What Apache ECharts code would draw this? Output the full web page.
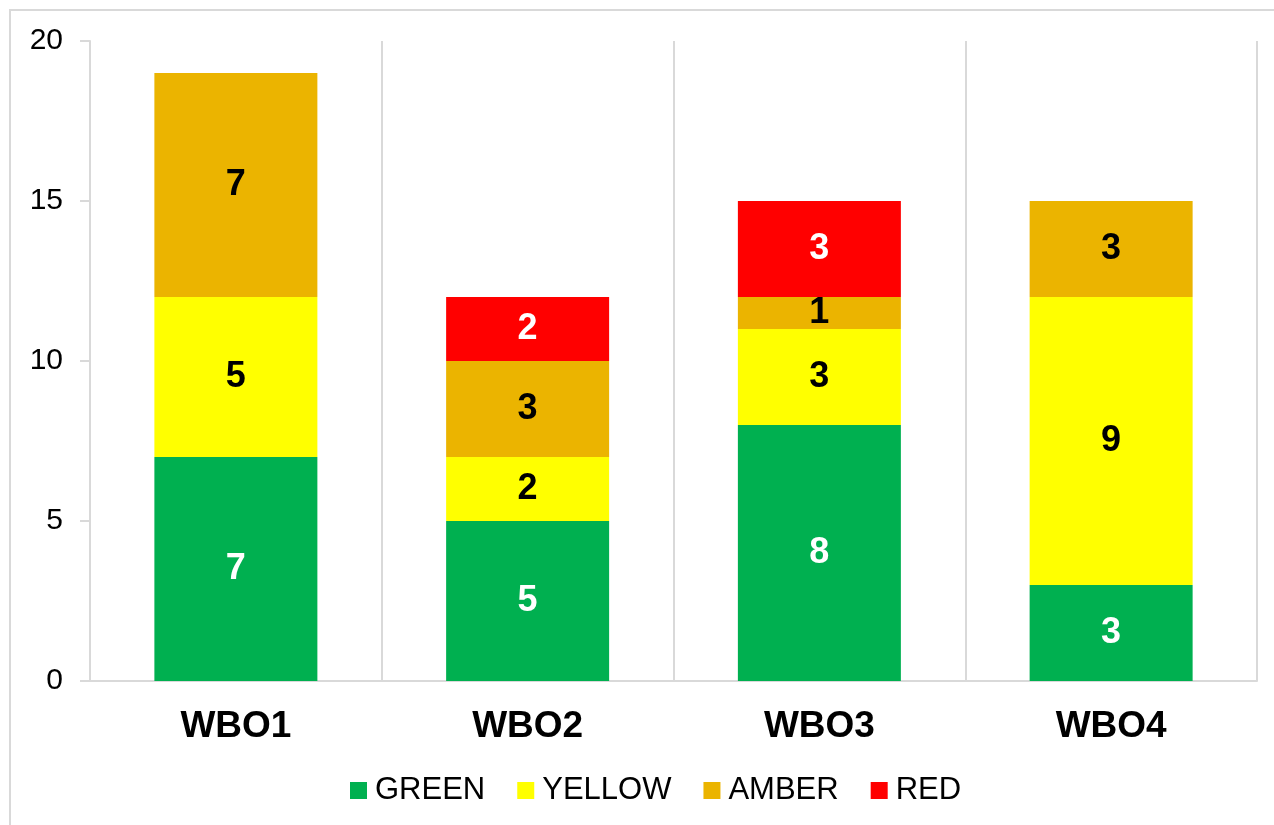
<!DOCTYPE html>
<html>
<head>
<meta charset="utf-8">
<script src="https://cdn.jsdelivr.net/npm/echarts@6/dist/echarts.min.js"></script>
<style>
  html, body { margin: 0; padding: 0; background: #fff; }
  #chart { width: 1274px; height: 825px; }
</style>
</head>
<body>
<div id="chart"></div>
<script>
// data
var categories = ['WBO1', 'WBO2', 'WBO3', 'WBO4'];
var greenData = [7, 5, 8, 3];
var yellowData = [5, 2, 3, 9];
var amberData = [7, 3, 1, 3];
var redData = [null, 2, 3, null];
var yTicks = { min: 0, max: 20, interval: 5 };

var FONT = "'Liberation Sans', Arial, sans-serif";
var GRID_COLOR = '#d9d9d9';

function makeSeries(name, data, color, labelColor) {
	return {
		name: name,
		type: 'bar',
		stack: 'total',
		barWidth: 163,
		data: data,
		itemStyle: { color: color },
		label: {
			show: true,
			position: 'inside',
			color: labelColor,
			fontFamily: FONT,
			fontWeight: 'bold',
			fontSize: 36,
			formatter: function (p) { return p.value ? p.value : ''; }
		}
	};
}

var myChart = echarts.init(document.getElementById('chart'));
var option = {
	animation: false,
	backgroundColor: '#fff',
	textStyle: { fontFamily: FONT },
	graphic: [{
		type: 'rect',
		shape: { x: 10, y: 10, width: 1300, height: 860 },
		style: { fill: null, stroke: GRID_COLOR, lineWidth: 2 },
		silent: true
	}],
	grid: { left: 90, right: 17, top: 41, bottom: 144, containLabel: false },
	legend: {
		data: ['GREEN', 'YELLOW', 'AMBER', 'RED'],
		bottom: 14,
		left: 345,
		itemWidth: 17,
		itemHeight: 17,
		itemGap: 32,
		icon: 'rect',
		textStyle: { fontFamily: FONT, fontSize: 31, color: '#000', padding: [0, 0, 0, 3] }
	},
	xAxis: {
		type: 'category',
		data: categories,
		axisLine: { lineStyle: { color: GRID_COLOR, width: 2 } },
		axisTick: { show: false },
		splitLine: { show: true, lineStyle: { color: GRID_COLOR, width: 2 } },
		axisLabel: {
			color: '#000',
			fontFamily: FONT,
			fontWeight: 'bold',
			fontSize: 37,
			margin: 27
		}
	},
	yAxis: {
		type: 'value',
		min: yTicks.min,
		max: yTicks.max,
		interval: yTicks.interval,
		axisLine: { show: true, lineStyle: { color: GRID_COLOR, width: 2 } },
		axisTick: { show: true, length: 10, lineStyle: { color: GRID_COLOR, width: 2 } },
		splitLine: { show: false },
		axisLabel: { color: '#000', fontFamily: FONT, fontSize: 30, margin: 27 }
	},
	series: [
		makeSeries('GREEN', greenData, '#00b050', '#fff'),
		makeSeries('YELLOW', yellowData, '#ffff00', '#000'),
		makeSeries('AMBER', amberData, '#ebb400', '#000'),
		makeSeries('RED', redData, '#ff0000', '#fff')
	]
};
myChart.setOption(option);
</script>
</body>
</html>
